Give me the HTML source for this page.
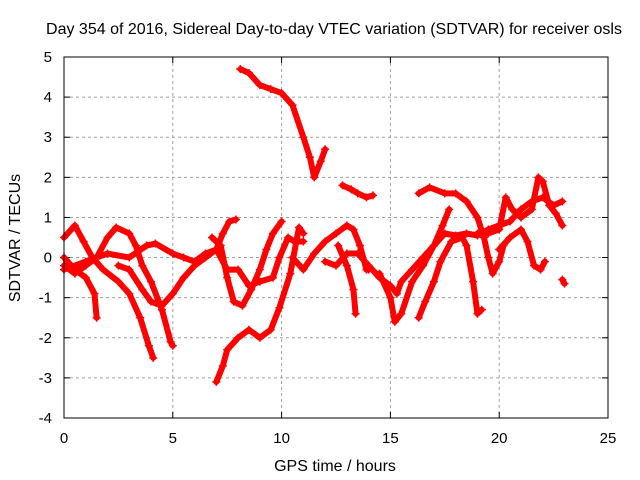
<!DOCTYPE html>
<html><head><meta charset="utf-8"><style>
body{margin:0;background:#fff}
svg{display:block;font-family:"Liberation Sans",sans-serif}
</style></head><body>
<svg id="chart" width="640" height="480">
<rect width="640" height="480" fill="#fff"/>
<text x="334" y="34" font-size="16" text-anchor="middle">Day 354 of 2016, Sidereal Day-to-day VTEC variation (SDTVAR) for receiver osls</text>
<text x="335" y="471" font-size="16" text-anchor="middle">GPS time / hours</text>
<text transform="translate(20,238) rotate(-90)" font-size="16" text-anchor="middle">SDTVAR / TECUs</text>
<g id="grid"></g><g id="ticks"></g><g id="marks"></g>
<rect x="64" y="57" width="544" height="361" fill="none" stroke="#000" stroke-width="1"/>
</svg>
<script>
const xTicks=[0,5,10,15,20,25];
const yTicks=[-4,-3,-2,-1,0,1,2,3,4,5];
const trackA=[[0,0.5],[0.5,0.8],[0.9,0.4],[1.3,0.0],[1.8,-0.3],[2.5,-0.6],[3,-0.9],[3.5,-1.5],[3.9,-2.2],[4.1,-2.5]];
const trackB=[[0,-0.2],[0.5,-0.4],[1,-0.2],[1.5,0.0],[2,0.5],[2.4,0.75],[3,0.6],[3.3,0.3],[3.6,-0.2],[4,-0.6],[4.5,-1.3],[4.9,-2.1],[5,-2.2]];
const trackC=[[0,0],[0.5,-0.3],[1,-0.5],[1.4,-0.9],[1.5,-1.5]];
const trackD=[[0,-0.3],[1,-0.1],[2,0.1],[3,0.0],[3.8,0.3],[4.2,0.35],[5,0.1],[5.5,0.0],[6,-0.1],[6.5,0.1],[7,0.2],[7.5,-0.3],[8,-0.3],[8.5,-0.7],[9,-0.6],[9.6,-0.5],[9.9,0.0],[10.3,0.5],[10.6,0.4],[11,0.4]];
const trackE=[[2.5,-0.2],[3,-0.3],[3.6,-0.8],[4,-1.1],[4.5,-1.2],[5,-0.9],[5.5,-0.5],[6,-0.2],[6.5,0.0],[7,0.2],[7.3,0.6],[7.6,0.9],[7.9,0.95]];
const trackF=[[7,-3.1],[7.3,-2.7],[7.5,-2.3],[8,-2.0],[8.5,-1.8],[9,-2.0],[9.5,-1.8],[9.9,-1.25],[10.4,-0.4],[10.8,0.75],[11,0.6]];
const trackG=[[6.8,0.5],[7.2,0.3],[7.5,-0.5],[7.8,-1.1],[8.2,-1.2],[8.6,-0.8],[9,-0.3],[9.3,0.2],[9.6,0.6],[10,0.9]];
const trackH=[[10.5,0],[11,-0.3],[11.5,0.1],[12,0.4],[12.5,0.6],[13,0.8],[13.3,0.7],[13.6,0.3],[13.9,-0.3],[14,-0.3]];
const trackH2=[[12.6,0.3],[13,-0.2],[13.3,-0.8],[13.4,-1.4]];
const trackI=[[12,-0.1],[12.5,-0.2],[13,0.1],[13.5,0.1],[14,-0.2],[14.5,-0.5],[15,-0.7],[15.3,-0.9],[15.5,-0.6],[16,-0.3],[16.5,0.0],[17,0.3],[17.5,0.6],[18,0.55],[18.5,0.6],[19,0.55],[19.5,0.7],[20,0.8],[20.5,0.9],[21,1.2],[21.5,1.4],[22,1.5],[22.5,1.3],[22.9,1.4]];
const trackJ=[[14.5,-0.4],[15,-1.0],[15.2,-1.6],[15.5,-1.4],[16,-0.6],[16.5,-0.2],[17,0.3],[17.4,0.8],[17.7,1.2]];
const trackK=[[16.3,-1.5],[16.6,-1.1],[17,-0.6],[17.3,-0.1],[17.8,0.4],[18.3,0.5],[18.5,0.3],[18.8,-0.6],[19,-1.4],[19.2,-1.3]];
const trackL=[[19,0.6],[19.5,0.6],[20,0.7],[20.3,1.5],[20.6,1.2],[21,1.0],[21.5,1.2],[21.8,2.0],[22,1.9],[22.3,1.3],[22.6,1.1],[22.9,0.8]];
const trackM=[[20,0.2],[20.5,0.5],[21,0.7],[21.3,0.4],[21.6,-0.2],[21.9,-0.3],[22.1,-0.1]];
const trackN=[[22.9,-0.55],[23,-0.65]];
const trackT=[[8.1,4.7],[8.5,4.6],[9,4.3],[9.5,4.2],[10,4.1],[10.5,3.8],[11,3.0],[11.3,2.5],[11.5,2.0],[11.8,2.4],[12,2.7]];
const trackU=[[12.8,1.8],[13.2,1.7],[13.5,1.6],[13.9,1.5],[14.2,1.55]];
const trackV=[[16.3,1.6],[16.8,1.75],[17.5,1.6],[18,1.6],[18.5,1.4],[19,1.0],[19.3,0.5],[19.5,0.0],[19.7,-0.4],[20,-0.1],[20.2,0.3]];
const tracks=[trackA,trackB,trackC,trackD,trackE,trackF,trackG,trackH,trackH2,trackI,trackJ,trackK,trackL,trackM,trackN,trackT,trackU,trackV];
const NS="http://www.w3.org/2000/svg";
const X=h=>64+h*(544/25);
const Y=v=>418-(v+4)*(361/9);
const grid=document.getElementById('grid'),ticks=document.getElementById('ticks'),marks=document.getElementById('marks');
function mk(tag,attrs,parent){const e=document.createElementNS(NS,tag);for(const k in attrs)e.setAttribute(k,attrs[k]);parent.appendChild(e);return e;}
xTicks.forEach(t=>{
  const x=X(t);
  if(t>0&&t<25){const g=mk('line',{x1:x,x2:x,y1:57,y2:418,stroke:'#a0a0a0','stroke-dasharray':'3,3'},grid);
  
  }
  mk('line',{x1:x,x2:x,y1:418,y2:412,stroke:'#000'},ticks);
  mk('line',{x1:x,x2:x,y1:57,y2:63,stroke:'#000'},ticks);
  const l=mk('text',{x:x,y:443,'font-size':15,'text-anchor':'middle'},ticks);l.textContent=t;
  
  
});
yTicks.forEach(t=>{
  const y=Y(t);
  if(t>-4&&t<5){const g=mk('line',{x1:64,x2:608,y1:y,y2:y,stroke:'#a0a0a0','stroke-dasharray':'3,3'},grid);
  
  }
  mk('line',{x1:64,x2:70,y1:y,y2:y,stroke:'#000'},ticks);
  mk('line',{x1:602,x2:608,y1:y,y2:y,stroke:'#000'},ticks);
  const l=mk('text',{x:52,y:y+5,'font-size':15,'text-anchor':'end'},ticks);l.textContent=t;
  
  
});
tracks.forEach(tr=>{
  const p=mk('polyline',{points:tr.map(d=>X(d[0])+','+Y(d[1])).join(' '),fill:'none',stroke:'#f00','stroke-width':6,'stroke-linejoin':'round','stroke-linecap':'round'},marks);
  
  
  tr.forEach(d=>{
    const x=X(d[0]),y=Y(d[1]);
    const m=mk('path',{d:`M${x-4},${y}H${x+4}M${x},${y-4}V${y+4}`,stroke:'#f00','stroke-width':1.5},marks);
    
    
  });
});
</script>
</body></html>
